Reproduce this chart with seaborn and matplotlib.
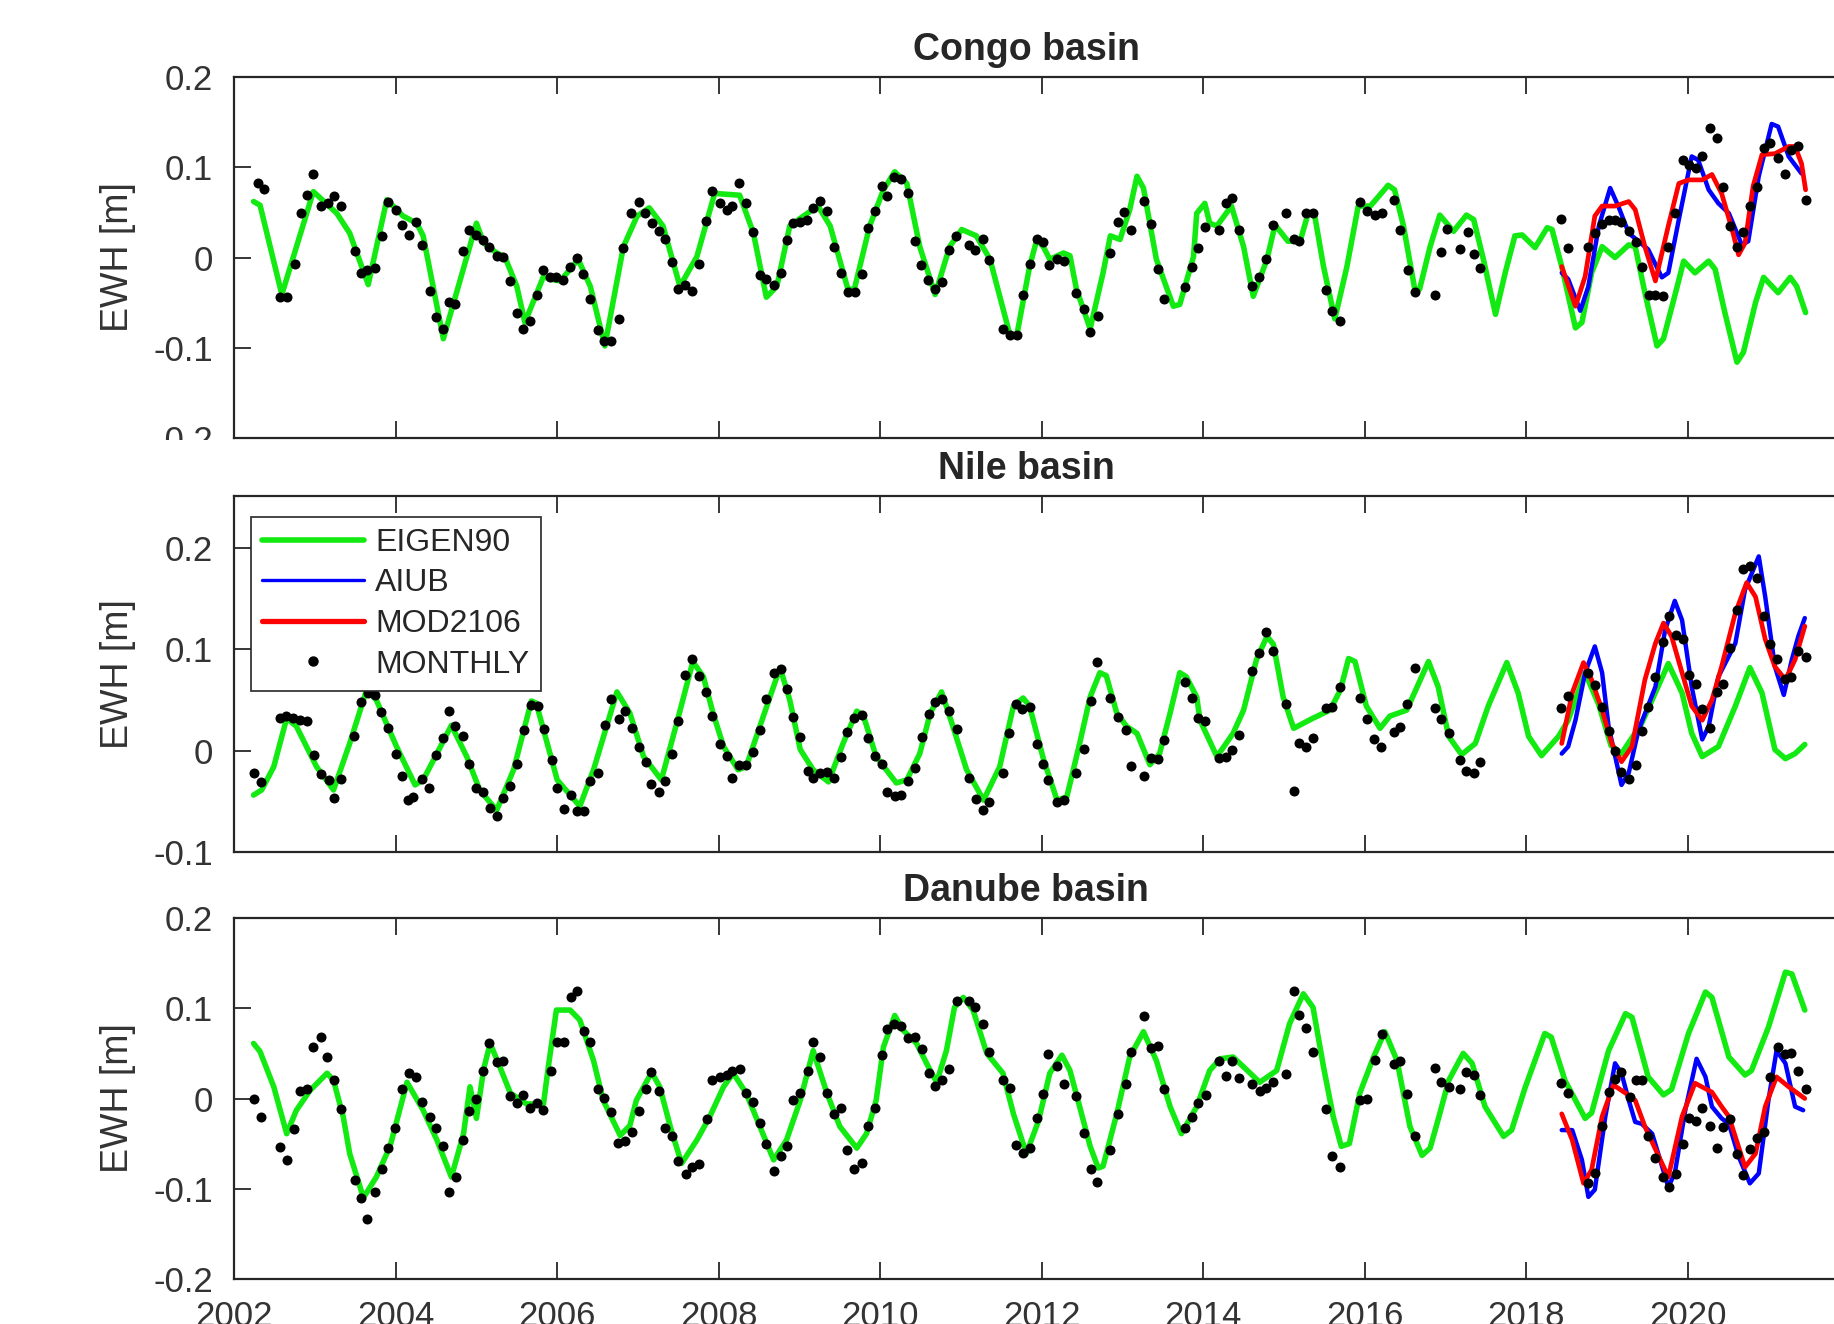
import numpy as np
import pandas as pd
import matplotlib
matplotlib.use("Agg")
import matplotlib.pyplot as plt
import seaborn as sns
from matplotlib.lines import Line2D
from matplotlib.patches import Rectangle

# ---------------- Congo basin ----------------
congo_eigen_t = [2002.24, 2002.32, 2002.59, 2002.98, 2003.27, 2003.43, 2003.66, 2003.89, 2004.09, 2004.26, 2004.34, 2004.59,
                 2005.00, 2005.09, 2005.25, 2005.35, 2005.50, 2005.60, 2005.83, 2005.91, 2006.04, 2006.16, 2006.26, 2006.41,
                 2006.59, 2006.82, 2006.99, 2007.14, 2007.31, 2007.52, 2007.73, 2007.95, 2008.26, 2008.43, 2008.59, 2008.72,
                 2008.88, 2009.05, 2009.23, 2009.38, 2009.60, 2009.68, 2009.87, 2010.04, 2010.18, 2010.33, 2010.49, 2010.68,
                 2010.86, 2011.01, 2011.19, 2011.36, 2011.61, 2011.69, 2011.85, 2011.94, 2012.02, 2012.10, 2012.27, 2012.35,
                 2012.43, 2012.60, 2012.76, 2012.85, 2012.97, 2013.09, 2013.18, 2013.26, 2013.42, 2013.63, 2013.71, 2013.88,
                 2013.92, 2014.02, 2014.08, 2014.17, 2014.35, 2014.50, 2014.62, 2014.79, 2014.89, 2015.05, 2015.20, 2015.30,
                 2015.38, 2015.49, 2015.63, 2015.78, 2015.92, 2016.07, 2016.29, 2016.37, 2016.48, 2016.62, 2016.68, 2016.81,
                 2016.93, 2017.10, 2017.26, 2017.35, 2017.47, 2017.62, 2017.74, 2017.86, 2017.95, 2018.11, 2018.26, 2018.32,
                 2018.44, 2018.61, 2018.69, 2018.81, 2018.94, 2019.10, 2019.27, 2019.35, 2019.47, 2019.62, 2019.70, 2019.85,
                 2019.95, 2020.09, 2020.26, 2020.34, 2020.46, 2020.61, 2020.69, 2020.84, 2020.94, 2021.12, 2021.27, 2021.35,
                 2021.46]
congo_eigen_v = [0.062, 0.058, -0.041, 0.073, 0.049, 0.027, -0.030, 0.064, 0.046, 0.038, 0.024, -0.090,
                 0.038, 0.016, 0.005, 0.001, -0.032, -0.072, -0.021, -0.024, -0.026, -0.013, -0.002, -0.032,
                 -0.098, 0.012, 0.046, 0.055, 0.035, -0.032, 0.001, 0.071, 0.069, 0.027, -0.044, -0.032,
                 0.035, 0.046, 0.057, 0.035, -0.035, -0.035, 0.035, 0.075, 0.095, 0.082, 0.012, -0.041,
                 0.012, 0.031, 0.024, -0.002, -0.087, -0.087, -0.010, 0.020, 0.012, -0.002, 0.005, 0.002,
                 -0.035, -0.079, -0.017, 0.024, 0.020, 0.053, 0.090, 0.077, -0.002, -0.054, -0.052, 0.001,
                 0.049, 0.060, 0.038, 0.035, 0.057, 0.012, -0.043, -0.002, 0.036, 0.018, 0.018, 0.049,
                 0.047, -0.010, -0.068, -0.010, 0.057, 0.057, 0.080, 0.075, 0.035, -0.035, -0.035, 0.012,
                 0.047, 0.029, 0.047, 0.042, -0.002, -0.063, -0.017, 0.024, 0.025, 0.011, 0.033, 0.031,
                 -0.010, -0.078, -0.072, -0.017, 0.012, 0.000, 0.014, 0.012, -0.039, -0.098, -0.090, -0.039,
                 -0.004, -0.017, -0.004, -0.013, -0.061, -0.116, -0.105, -0.050, -0.022, -0.039, -0.022, -0.032,
                 -0.061]
congo_aiub_t = [2018.44, 2018.52, 2018.67, 2018.77, 2018.90, 2019.04, 2019.14, 2019.27, 2019.39, 2019.51, 2019.68, 2019.76,
                2019.89, 2020.05, 2020.13, 2020.26, 2020.38, 2020.51, 2020.67, 2020.75, 2020.88, 2021.04, 2021.12, 2021.25,
                2021.41]
congo_aiub_v = [-0.017, -0.024, -0.059, -0.032, 0.035, 0.077, 0.057, 0.027, 0.018, 0.009, -0.022, -0.017,
                0.042, 0.112, 0.108, 0.075, 0.060, 0.049, 0.014, 0.018, 0.090, 0.148, 0.145, 0.112,
                0.093]
congo_mod_t = [2018.44, 2018.61, 2018.73, 2018.85, 2018.94, 2019.10, 2019.27, 2019.35, 2019.47, 2019.60, 2019.76, 2019.89,
               2020.01, 2020.18, 2020.30, 2020.42, 2020.55, 2020.63, 2020.71, 2020.81, 2020.92, 2021.08, 2021.25, 2021.33,
               2021.41, 2021.46]
congo_mod_v = [-0.010, -0.054, -0.021, 0.046, 0.057, 0.057, 0.062, 0.053, 0.012, -0.026, 0.035, 0.082,
               0.086, 0.086, 0.092, 0.071, 0.031, 0.003, 0.016, 0.079, 0.114, 0.115, 0.123, 0.123,
               0.104, 0.075]
congo_month_t = [2002.29, 2002.37, 2002.57, 2002.66, 2002.75, 2002.83, 2002.90, 2002.98, 2003.07, 2003.16, 2003.24, 2003.32,
                 2003.49, 2003.57, 2003.65, 2003.74, 2003.83, 2003.90, 2004.00, 2004.08, 2004.16, 2004.25, 2004.32, 2004.42,
                 2004.50, 2004.58, 2004.66, 2004.74, 2004.83, 2004.91, 2004.99, 2005.08, 2005.16, 2005.25, 2005.33, 2005.41,
                 2005.50, 2005.58, 2005.66, 2005.75, 2005.83, 2005.91, 2005.99, 2006.07, 2006.16, 2006.25, 2006.32, 2006.41,
                 2006.50, 2006.58, 2006.67, 2006.76, 2006.82, 2006.91, 2007.01, 2007.09, 2007.17, 2007.26, 2007.33, 2007.42,
                 2007.50, 2007.58, 2007.67, 2007.75, 2007.84, 2007.92, 2008.01, 2008.10, 2008.17, 2008.25, 2008.34, 2008.43,
                 2008.51, 2008.59, 2008.68, 2008.77, 2008.85, 2008.92, 2009.01, 2009.09, 2009.17, 2009.25, 2009.34, 2009.43,
                 2009.51, 2009.60, 2009.69, 2009.77, 2009.85, 2009.93, 2010.02, 2010.09, 2010.17, 2010.26, 2010.34, 2010.43,
                 2010.51, 2010.59, 2010.68, 2010.77, 2010.85, 2010.94, 2011.10, 2011.18, 2011.27, 2011.35, 2011.52, 2011.61,
                 2011.69, 2011.77, 2011.85, 2011.94, 2012.02, 2012.09, 2012.19, 2012.27, 2012.43, 2012.52, 2012.60, 2012.70,
                 2012.85, 2012.94, 2013.02, 2013.11, 2013.27, 2013.35, 2013.44, 2013.52, 2013.77, 2013.86, 2013.94, 2014.02,
                 2014.19, 2014.28, 2014.36, 2014.44, 2014.60, 2014.69, 2014.78, 2014.87, 2015.03, 2015.12, 2015.19, 2015.27,
                 2015.36, 2015.52, 2015.60, 2015.69, 2015.94, 2016.03, 2016.13, 2016.21, 2016.36, 2016.44, 2016.54, 2016.62,
                 2016.87, 2016.95, 2017.02, 2017.18, 2017.28, 2017.35, 2017.43, 2018.43, 2018.52, 2018.77, 2018.85, 2018.94,
                 2019.02, 2019.10, 2019.18, 2019.27, 2019.36, 2019.43, 2019.52, 2019.60, 2019.70, 2019.76, 2019.84, 2019.94,
                 2020.02, 2020.10, 2020.18, 2020.28, 2020.36, 2020.44, 2020.53, 2020.61, 2020.69, 2020.77, 2020.86, 2020.94,
                 2021.02, 2021.12, 2021.20, 2021.28, 2021.37, 2021.46]
congo_month_v = [0.083, 0.076, -0.044, -0.044, -0.007, 0.049, 0.069, 0.093, 0.057, 0.060, 0.068, 0.057,
                 0.007, -0.017, -0.014, -0.012, 0.024, 0.062, 0.053, 0.036, 0.025, 0.039, 0.014, -0.037,
                 -0.066, -0.079, -0.049, -0.052, 0.007, 0.031, 0.025, 0.019, 0.012, 0.002, 0.001, -0.026,
                 -0.061, -0.079, -0.070, -0.041, -0.014, -0.022, -0.022, -0.025, -0.010, 0.000, -0.018, -0.046,
                 -0.080, -0.093, -0.092, -0.068, 0.010, 0.049, 0.061, 0.049, 0.038, 0.029, 0.020, -0.005,
                 -0.035, -0.031, -0.037, -0.007, 0.040, 0.074, 0.060, 0.053, 0.057, 0.083, 0.060, 0.028,
                 -0.019, -0.024, -0.030, -0.017, 0.019, 0.038, 0.039, 0.042, 0.055, 0.063, 0.052, 0.012,
                 -0.017, -0.038, -0.038, -0.018, 0.033, 0.051, 0.079, 0.068, 0.089, 0.087, 0.072, 0.018,
                 -0.008, -0.025, -0.035, -0.027, 0.008, 0.024, 0.014, 0.008, 0.021, -0.003, -0.079, -0.086,
                 -0.086, -0.041, -0.007, 0.021, 0.017, -0.008, -0.002, -0.004, -0.039, -0.057, -0.083, -0.065,
                 0.005, 0.039, 0.050, 0.030, 0.063, 0.037, -0.013, -0.046, -0.033, -0.010, 0.011, 0.034,
                 0.030, 0.060, 0.066, 0.030, -0.032, -0.022, -0.002, 0.036, 0.049, 0.020, 0.018, 0.049,
                 0.049, -0.036, -0.059, -0.070, 0.062, 0.052, 0.047, 0.049, 0.064, 0.030, -0.014, -0.038,
                 -0.041, 0.006, 0.032, 0.009, 0.028, 0.004, -0.012, 0.043, 0.010, 0.012, 0.027, 0.037,
                 0.041, 0.042, 0.039, 0.029, 0.017, -0.010, -0.041, -0.041, -0.043, 0.012, 0.049, 0.108,
                 0.103, 0.099, 0.112, 0.143, 0.132, 0.078, 0.035, 0.012, 0.028, 0.057, 0.078, 0.121,
                 0.127, 0.110, 0.093, 0.119, 0.123, 0.064]

# ---------------- Nile basin ----------------
nile_eigen_t = [2002.24, 2002.34, 2002.49, 2002.65, 2002.77, 2003.02, 2003.23, 2003.43, 2003.64, 2003.76, 2004.01, 2004.24,
                2004.34, 2004.51, 2004.69, 2004.88, 2005.04, 2005.25, 2005.46, 2005.68, 2005.74, 2006.00, 2006.28, 2006.45,
                2006.74, 2006.90, 2007.07, 2007.29, 2007.48, 2007.68, 2007.81, 2007.93, 2008.06, 2008.24, 2008.34, 2008.51,
                2008.76, 2008.88, 2009.01, 2009.17, 2009.36, 2009.54, 2009.71, 2009.79, 2009.95, 2010.20, 2010.33, 2010.49,
                2010.62, 2010.76, 2010.90, 2011.07, 2011.28, 2011.48, 2011.65, 2011.77, 2011.85, 2012.02, 2012.19, 2012.31,
                2012.47, 2012.60, 2012.72, 2012.80, 2012.93, 2013.05, 2013.18, 2013.34, 2013.46, 2013.59, 2013.71, 2013.79,
                2013.92, 2013.96, 2014.17, 2014.37, 2014.50, 2014.66, 2014.79, 2014.87, 2014.99, 2015.12, 2015.36, 2015.57,
                2015.70, 2015.80, 2015.88, 2016.02, 2016.19, 2016.31, 2016.52, 2016.79, 2016.91, 2017.04, 2017.20, 2017.37,
                2017.53, 2017.76, 2017.90, 2018.03, 2018.19, 2018.40, 2018.52, 2018.73, 2018.90, 2019.05, 2019.18, 2019.43,
                2019.76, 2019.93, 2020.05, 2020.18, 2020.38, 2020.59, 2020.77, 2020.92, 2021.08, 2021.21, 2021.33, 2021.45]
nile_eigen_v = [-0.044, -0.039, -0.016, 0.032, 0.024, -0.016, -0.039, 0.007, 0.060, 0.050, 0.004, -0.034,
                -0.029, -0.003, 0.025, -0.006, -0.039, -0.059, -0.019, 0.049, 0.047, -0.029, -0.055, -0.019,
                0.058, 0.037, -0.006, -0.029, 0.027, 0.088, 0.073, 0.037, 0.004, -0.019, -0.016, 0.024,
                0.082, 0.050, 0.001, -0.019, -0.031, 0.007, 0.039, 0.035, -0.006, -0.032, -0.029, -0.003,
                0.037, 0.058, 0.024, -0.019, -0.049, -0.016, 0.044, 0.052, 0.044, -0.008, -0.049, -0.046,
                0.007, 0.053, 0.077, 0.074, 0.037, 0.024, 0.017, -0.014, -0.003, 0.037, 0.077, 0.073,
                0.053, 0.030, -0.006, 0.017, 0.040, 0.090, 0.113, 0.105, 0.053, 0.022, 0.032, 0.040,
                0.060, 0.091, 0.088, 0.044, 0.022, 0.034, 0.040, 0.088, 0.063, 0.014, -0.004, 0.007,
                0.044, 0.087, 0.057, 0.014, -0.005, 0.014, 0.030, 0.077, 0.045, 0.005, -0.003, 0.027,
                0.086, 0.057, 0.017, -0.006, 0.004, 0.044, 0.082, 0.057, 0.001, -0.008, -0.003, 0.006]
nile_aiub_t = [2018.44, 2018.52, 2018.61, 2018.73, 2018.85, 2018.94, 2019.02, 2019.18, 2019.27, 2019.39, 2019.60, 2019.72,
               2019.84, 2019.93, 2020.05, 2020.18, 2020.26, 2020.38, 2020.59, 2020.71, 2020.88, 2020.96, 2021.08, 2021.19,
               2021.29, 2021.37, 2021.45]
nile_aiub_v = [-0.003, 0.004, 0.030, 0.077, 0.103, 0.077, 0.024, -0.034, -0.022, 0.020, 0.063, 0.119,
               0.148, 0.129, 0.063, 0.011, 0.024, 0.073, 0.106, 0.159, 0.192, 0.152, 0.083, 0.055,
               0.090, 0.113, 0.131]
nile_mod_t = [2018.44, 2018.57, 2018.71, 2018.81, 2018.94, 2019.06, 2019.18, 2019.31, 2019.47, 2019.60, 2019.70, 2019.80,
              2019.93, 2020.05, 2020.18, 2020.30, 2020.42, 2020.59, 2020.73, 2020.84, 2020.96, 2021.08, 2021.21, 2021.33,
              2021.45]
nile_mod_v = [0.007, 0.057, 0.087, 0.070, 0.040, 0.007, -0.011, 0.004, 0.070, 0.106, 0.126, 0.113,
              0.077, 0.044, 0.030, 0.050, 0.083, 0.136, 0.166, 0.152, 0.110, 0.083, 0.070, 0.090,
              0.123]
nile_month_t = [2002.24, 2002.33, 2002.57, 2002.64, 2002.73, 2002.82, 2002.90, 2002.99, 2003.08, 2003.17, 2003.24, 2003.32,
                2003.48, 2003.57, 2003.66, 2003.74, 2003.82, 2003.90, 2004.00, 2004.08, 2004.15, 2004.22, 2004.33, 2004.41,
                2004.50, 2004.58, 2004.66, 2004.74, 2004.83, 2004.91, 2004.99, 2005.08, 2005.17, 2005.25, 2005.33, 2005.42,
                2005.50, 2005.59, 2005.67, 2005.76, 2005.84, 2005.93, 2006.00, 2006.09, 2006.17, 2006.25, 2006.33, 2006.41,
                2006.51, 2006.59, 2006.67, 2006.76, 2006.84, 2006.93, 2007.01, 2007.10, 2007.16, 2007.26, 2007.33, 2007.42,
                2007.50, 2007.58, 2007.67, 2007.75, 2007.84, 2007.92, 2008.01, 2008.10, 2008.17, 2008.25, 2008.34, 2008.43,
                2008.51, 2008.58, 2008.68, 2008.77, 2008.85, 2008.92, 2009.01, 2009.10, 2009.17, 2009.25, 2009.34, 2009.43,
                2009.51, 2009.59, 2009.67, 2009.77, 2009.85, 2009.93, 2010.02, 2010.09, 2010.18, 2010.26, 2010.34, 2010.43,
                2010.52, 2010.60, 2010.68, 2010.77, 2010.85, 2010.95, 2011.10, 2011.19, 2011.27, 2011.35, 2011.52, 2011.60,
                2011.68, 2011.76, 2011.85, 2011.94, 2012.02, 2012.08, 2012.19, 2012.28, 2012.43, 2012.52, 2012.61, 2012.69,
                2012.85, 2012.95, 2013.04, 2013.11, 2013.27, 2013.35, 2013.44, 2013.52, 2013.77, 2013.86, 2013.94, 2014.02,
                2014.19, 2014.28, 2014.36, 2014.44, 2014.60, 2014.69, 2014.78, 2014.87, 2015.03, 2015.12, 2015.19, 2015.27,
                2015.36, 2015.52, 2015.60, 2015.69, 2015.94, 2016.03, 2016.12, 2016.20, 2016.36, 2016.44, 2016.53, 2016.62,
                2016.87, 2016.95, 2017.04, 2017.18, 2017.26, 2017.35, 2017.43, 2018.43, 2018.52, 2018.77, 2018.85, 2018.94,
                2019.02, 2019.10, 2019.18, 2019.27, 2019.36, 2019.43, 2019.51, 2019.60, 2019.70, 2019.77, 2019.85, 2019.94,
                2020.02, 2020.10, 2020.18, 2020.28, 2020.36, 2020.44, 2020.53, 2020.61, 2020.69, 2020.77, 2020.86, 2020.94,
                2021.02, 2021.10, 2021.20, 2021.28, 2021.36, 2021.46]
nile_month_v = [-0.022, -0.031, 0.032, 0.034, 0.032, 0.030, 0.029, -0.004, -0.023, -0.029, -0.047, -0.028,
                0.014, 0.048, 0.057, 0.055, 0.038, 0.022, -0.003, -0.025, -0.049, -0.046, -0.028, -0.037,
                -0.004, 0.012, 0.039, 0.024, 0.014, -0.013, -0.037, -0.041, -0.057, -0.065, -0.047, -0.035,
                -0.013, 0.020, 0.045, 0.044, 0.021, -0.009, -0.037, -0.058, -0.044, -0.060, -0.060, -0.030,
                -0.022, 0.025, 0.051, 0.031, 0.039, 0.022, 0.004, -0.011, -0.033, -0.041, -0.030, -0.003,
                0.029, 0.075, 0.091, 0.074, 0.058, 0.034, 0.006, -0.005, -0.027, -0.014, -0.014, -0.001,
                0.020, 0.051, 0.077, 0.081, 0.061, 0.033, 0.013, -0.020, -0.027, -0.022, -0.021, -0.027,
                -0.006, 0.018, 0.032, 0.035, 0.012, -0.005, -0.013, -0.041, -0.045, -0.044, -0.030, -0.017,
                0.013, 0.036, 0.048, 0.051, 0.039, 0.021, -0.027, -0.048, -0.059, -0.051, -0.022, 0.017,
                0.046, 0.041, 0.043, 0.006, -0.013, -0.029, -0.051, -0.049, -0.022, 0.002, 0.049, 0.088,
                0.052, 0.033, 0.020, -0.015, -0.025, -0.007, -0.008, 0.010, 0.068, 0.052, 0.032, 0.029,
                -0.007, -0.006, 0.001, 0.015, 0.079, 0.096, 0.117, 0.098, 0.046, -0.040, 0.007, 0.004,
                0.012, 0.042, 0.043, 0.063, 0.052, 0.031, 0.011, 0.004, 0.018, 0.023, 0.046, 0.082,
                0.042, 0.031, 0.017, -0.009, -0.020, -0.022, -0.011, 0.042, 0.054, 0.077, 0.065, 0.043,
                0.019, 0.000, -0.021, -0.028, -0.014, 0.019, 0.043, 0.073, 0.107, 0.133, 0.114, 0.110,
                0.075, 0.066, 0.041, 0.022, 0.058, 0.066, 0.101, 0.139, 0.180, 0.182, 0.171, 0.133,
                0.105, 0.091, 0.071, 0.073, 0.098, 0.093]

# ---------------- Danube basin ----------------
danube_eigen_t = [2002.24, 2002.32, 2002.49, 2002.65, 2002.77, 2002.94, 2003.15, 2003.23, 2003.35, 2003.43, 2003.60, 2003.76,
                  2003.93, 2004.14, 2004.34, 2004.51, 2004.69, 2004.84, 2004.92, 2005.00, 2005.09, 2005.17, 2005.29, 2005.42,
                  2005.62, 2005.83, 2005.89, 2005.99, 2006.16, 2006.28, 2006.45, 2006.57, 2006.78, 2006.90, 2006.98, 2007.17,
                  2007.27, 2007.40, 2007.54, 2007.73, 2007.89, 2008.06, 2008.18, 2008.34, 2008.51, 2008.68, 2008.84, 2009.01,
                  2009.17, 2009.34, 2009.50, 2009.71, 2009.83, 2009.95, 2010.04, 2010.18, 2010.28, 2010.45, 2010.62, 2010.70,
                  2010.82, 2010.92, 2011.03, 2011.15, 2011.32, 2011.52, 2011.65, 2011.81, 2011.96, 2012.10, 2012.25, 2012.35,
                  2012.47, 2012.60, 2012.70, 2012.76, 2012.93, 2013.09, 2013.26, 2013.42, 2013.59, 2013.73, 2013.92, 2014.08,
                  2014.21, 2014.37, 2014.50, 2014.70, 2014.91, 2015.07, 2015.24, 2015.36, 2015.49, 2015.61, 2015.71, 2015.81,
                  2015.94, 2016.11, 2016.25, 2016.40, 2016.56, 2016.71, 2016.81, 2016.92, 2017.04, 2017.22, 2017.33, 2017.49,
                  2017.72, 2017.82, 2017.99, 2018.23, 2018.31, 2018.48, 2018.73, 2018.81, 2019.02, 2019.23, 2019.31, 2019.51,
                  2019.70, 2019.80, 2020.01, 2020.22, 2020.30, 2020.51, 2020.71, 2020.79, 2021.00, 2021.21, 2021.29, 2021.45]
danube_eigen_v = [0.061, 0.052, 0.013, -0.039, -0.013, 0.009, 0.028, 0.020, -0.020, -0.061, -0.110, -0.087,
                  -0.053, 0.018, -0.013, -0.046, -0.087, -0.039, 0.013, -0.022, 0.033, 0.061, 0.035, 0.006,
                  -0.006, -0.006, 0.035, 0.098, 0.098, 0.087, 0.042, -0.002, -0.041, -0.030, -0.002, 0.029,
                  0.013, -0.031, -0.072, -0.046, -0.020, 0.013, 0.028, 0.006, -0.031, -0.068, -0.046, -0.002,
                  0.053, 0.006, -0.031, -0.055, -0.039, -0.002, 0.057, 0.092, 0.076, 0.061, 0.031, 0.018,
                  0.053, 0.101, 0.112, 0.098, 0.050, 0.028, -0.017, -0.061, -0.025, 0.028, 0.048, 0.031,
                  -0.009, -0.053, -0.077, -0.075, -0.017, 0.046, 0.074, 0.042, -0.009, -0.039, -0.009, 0.031,
                  0.044, 0.046, 0.035, 0.018, 0.031, 0.083, 0.116, 0.101, 0.035, -0.020, -0.053, -0.050,
                  0.006, 0.046, 0.074, 0.042, -0.031, -0.063, -0.055, -0.020, 0.020, 0.050, 0.039, -0.009,
                  -0.042, -0.035, 0.013, 0.072, 0.068, 0.020, -0.022, -0.016, 0.053, 0.094, 0.090, 0.024,
                  0.004, 0.010, 0.072, 0.118, 0.112, 0.046, 0.026, 0.031, 0.079, 0.140, 0.138, 0.098]
danube_aiub_t = [2018.44, 2018.57, 2018.69, 2018.77, 2018.85, 2018.98, 2019.10, 2019.18, 2019.27, 2019.35, 2019.43, 2019.56,
                 2019.76, 2019.84, 2019.97, 2020.11, 2020.22, 2020.30, 2020.42, 2020.51, 2020.63, 2020.77, 2020.88, 2021.00,
                 2021.10, 2021.21, 2021.33, 2021.43]
danube_aiub_v = [-0.035, -0.035, -0.068, -0.109, -0.101, -0.020, 0.039, 0.028, -0.002, -0.026, -0.028, -0.039,
                 -0.098, -0.083, -0.013, 0.044, 0.024, -0.009, -0.022, -0.028, -0.064, -0.094, -0.083, -0.002,
                 0.053, 0.039, -0.009, -0.013]
danube_mod_t = [2018.44, 2018.57, 2018.71, 2018.81, 2018.94, 2019.08, 2019.23, 2019.35, 2019.47, 2019.76, 2019.93, 2020.09,
                2020.30, 2020.42, 2020.51, 2020.71, 2020.84, 2020.96, 2021.10, 2021.25, 2021.45]
danube_mod_v = [-0.017, -0.046, -0.094, -0.079, -0.020, 0.015, 0.006, -0.002, -0.031, -0.087, -0.020, 0.017,
                0.007, -0.009, -0.020, -0.076, -0.061, -0.009, 0.024, 0.013, 0.000]
danube_month_t = [2002.24, 2002.33, 2002.57, 2002.66, 2002.74, 2002.82, 2002.90, 2002.98, 2003.07, 2003.15, 2003.24, 2003.32,
                  2003.49, 2003.57, 2003.65, 2003.74, 2003.83, 2003.91, 2003.99, 2004.08, 2004.16, 2004.25, 2004.32, 2004.42,
                  2004.50, 2004.58, 2004.66, 2004.75, 2004.83, 2004.91, 2004.99, 2005.08, 2005.16, 2005.25, 2005.33, 2005.41,
                  2005.50, 2005.58, 2005.66, 2005.75, 2005.83, 2005.92, 2006.00, 2006.08, 2006.17, 2006.25, 2006.33, 2006.41,
                  2006.50, 2006.58, 2006.67, 2006.75, 2006.84, 2006.93, 2007.01, 2007.10, 2007.16, 2007.26, 2007.33, 2007.42,
                  2007.50, 2007.59, 2007.67, 2007.75, 2007.85, 2007.92, 2008.01, 2008.10, 2008.17, 2008.26, 2008.34, 2008.43,
                  2008.51, 2008.59, 2008.68, 2008.77, 2008.85, 2008.92, 2009.01, 2009.10, 2009.17, 2009.25, 2009.34, 2009.43,
                  2009.51, 2009.59, 2009.67, 2009.77, 2009.85, 2009.93, 2010.02, 2010.09, 2010.17, 2010.26, 2010.35, 2010.43,
                  2010.52, 2010.60, 2010.68, 2010.77, 2010.85, 2010.95, 2011.10, 2011.18, 2011.27, 2011.35, 2011.52, 2011.61,
                  2011.68, 2011.77, 2011.85, 2011.94, 2012.02, 2012.08, 2012.19, 2012.28, 2012.43, 2012.52, 2012.61, 2012.69,
                  2012.85, 2012.95, 2013.04, 2013.11, 2013.27, 2013.35, 2013.44, 2013.52, 2013.77, 2013.86, 2013.94, 2014.03,
                  2014.19, 2014.28, 2014.36, 2014.44, 2014.60, 2014.70, 2014.78, 2014.87, 2015.03, 2015.12, 2015.19, 2015.27,
                  2015.36, 2015.52, 2015.60, 2015.69, 2015.94, 2016.03, 2016.13, 2016.21, 2016.36, 2016.44, 2016.53, 2016.62,
                  2016.87, 2016.95, 2017.04, 2017.18, 2017.26, 2017.35, 2017.43, 2018.43, 2018.52, 2018.77, 2018.85, 2018.94,
                  2019.02, 2019.10, 2019.18, 2019.28, 2019.36, 2019.44, 2019.51, 2019.60, 2019.69, 2019.77, 2019.85, 2019.94,
                  2020.02, 2020.10, 2020.18, 2020.28, 2020.36, 2020.44, 2020.53, 2020.61, 2020.69, 2020.77, 2020.86, 2020.94,
                  2021.02, 2021.12, 2021.20, 2021.28, 2021.36, 2021.46]
danube_month_v = [0.000, -0.020, -0.054, -0.068, -0.034, 0.008, 0.011, 0.057, 0.068, 0.046, 0.021, -0.012,
                  -0.090, -0.110, -0.134, -0.104, -0.078, -0.055, -0.033, 0.011, 0.028, 0.024, -0.004, -0.020,
                  -0.033, -0.053, -0.104, -0.087, -0.046, -0.014, 0.000, 0.031, 0.061, 0.040, 0.041, 0.003,
                  -0.005, 0.004, -0.011, -0.005, -0.013, 0.031, 0.063, 0.063, 0.112, 0.119, 0.075, 0.063,
                  0.011, 0.001, -0.015, -0.049, -0.047, -0.037, -0.014, 0.010, 0.029, 0.008, -0.033, -0.042,
                  -0.069, -0.084, -0.076, -0.073, -0.023, 0.021, 0.024, 0.026, 0.031, 0.033, 0.006, -0.004,
                  -0.027, -0.050, -0.080, -0.064, -0.053, -0.002, 0.006, 0.031, 0.063, 0.046, 0.006, -0.017,
                  -0.010, -0.057, -0.078, -0.072, -0.031, -0.011, 0.048, 0.077, 0.082, 0.080, 0.067, 0.068,
                  0.055, 0.028, 0.014, 0.020, 0.033, 0.108, 0.108, 0.101, 0.082, 0.052, 0.020, 0.012,
                  -0.052, -0.060, -0.055, -0.022, 0.005, 0.049, 0.036, 0.016, 0.003, -0.038, -0.078, -0.093,
                  -0.057, -0.017, 0.016, 0.051, 0.091, 0.056, 0.058, 0.011, -0.033, -0.020, -0.005, 0.004,
                  0.041, 0.025, 0.041, 0.023, 0.016, 0.008, 0.012, 0.018, 0.027, 0.119, 0.092, 0.078,
                  0.052, -0.012, -0.064, -0.076, -0.002, 0.000, 0.043, 0.072, 0.038, 0.042, 0.005, -0.041,
                  0.034, 0.018, 0.013, 0.010, 0.029, 0.026, 0.004, 0.017, 0.006, -0.094, -0.083, -0.031,
                  0.007, 0.022, 0.029, 0.002, 0.021, 0.021, -0.041, -0.066, -0.087, -0.098, -0.084, -0.050,
                  -0.022, -0.025, -0.010, -0.031, -0.055, -0.032, -0.023, -0.061, -0.085, -0.056, -0.044, -0.037,
                  0.024, 0.057, 0.049, 0.050, 0.031, 0.011]

titles = ["Congo basin", "Nile basin", "Danube basin"]
series_names = ["EIGEN90", "AIUB", "MOD2106", "MONTHLY"]
year_ticks = [2002, 2004, 2006, 2008, 2010, 2012, 2014, 2016, 2018, 2020]
ytick_sets = [[-0.2, -0.1, 0, 0.1, 0.2], [-0.1, 0, 0.1, 0.2], [-0.2, -0.1, 0, 0.1, 0.2]]
ytick_label_sets = [["-0.2", "-0.1", "0", "0.1", "0.2"], ["-0.1", "0", "0.1", "0.2"],
                    ["-0.2", "-0.1", "0", "0.1", "0.2"]]
ylims = [(-0.2, 0.2), (-0.1, 0.2517), (-0.2, 0.2)]

panel_data = [
    (congo_eigen_t, congo_eigen_v, congo_aiub_t, congo_aiub_v, congo_mod_t, congo_mod_v, congo_month_t, congo_month_v),
    (nile_eigen_t, nile_eigen_v, nile_aiub_t, nile_aiub_v, nile_mod_t, nile_mod_v, nile_month_t, nile_month_v),
    (danube_eigen_t, danube_eigen_v, danube_aiub_t, danube_aiub_v, danube_mod_t, danube_mod_v, danube_month_t, danube_month_v),
]

# ---------------- style ----------------
sns.set_style("ticks")
plt.rcParams['font.family'] = ['Liberation Sans', 'DejaVu Sans']

GREEN, BLUE, RED = '#12ea12', '#0000ff', '#ff0000'
AXC = '#262626'
W, H = 1834, 1324
fig = plt.figure(figsize=(W / 100, H / 100), dpi=100)
fig.patch.set_facecolor('white')

# axes boxes in pixels (left, top, bottom); right edge runs to the figure edge
boxes = [(234.2, 77, 438), (234.2, 496, 851.7), (234.2, 918, 1279)]
x_right = 2002 + (W - 234.2) / 80.75

axes = []
for i, (l, t, b) in enumerate(boxes):
    ax = fig.add_axes([l / W, 1 - b / H, (W - l) / W, (b - t) / H])
    axes.append(ax)
    et, ev, at, av, mt, mv, qt, qv = panel_data[i]
    sns.lineplot(x=et, y=ev, color=GREEN, linewidth=4.0, ax=ax, sort=False, estimator=None, legend=False, zorder=2)
    sns.lineplot(x=at, y=av, color=BLUE, linewidth=3.2, ax=ax, sort=False, estimator=None, legend=False, zorder=3)
    sns.lineplot(x=mt, y=mv, color=RED, linewidth=3.4, ax=ax, sort=False, estimator=None, legend=False, zorder=4)
    sns.scatterplot(x=qt, y=qv, color='black', s=52, linewidth=0, ax=ax, legend=False, zorder=5)

    ax.set_xlim(2002, x_right)
    ax.set_ylim(*ylims[i])
    ax.set_xticks(year_ticks)
    ax.set_yticks(ytick_sets[i])
    ax.set_yticklabels(ytick_label_sets[i])
    if i < 2:
        ax.set_xticklabels([])
    else:
        ax.set_xticklabels([str(y) for y in year_ticks])
    ax.tick_params(axis='both', direction='in', length=12, width=1.3, colors=AXC,
                   labelsize=25, pad=15, top=True, right=False, labelcolor='#333333')
    for side in ['top', 'left', 'bottom']:
        ax.spines[side].set_color(AXC)
        ax.spines[side].set_linewidth(1.6)
    ax.spines['right'].set_visible(False)
    ax.set_xlabel('')
    ax.set_ylabel('EWH [m]', fontsize=27, color='#333333')
    ax.yaxis.set_label_coords(-0.0614, 0.5)
    ax.set_title(titles[i], fontsize=27, fontweight='bold', pad=12, x=0.495)
    ax.set_facecolor('white')

# white band that hides the lower half of the top panel's bottom tick label (as in the source)
cover = Rectangle((0, 1 - 492 / H), 1, (492 - 440) / H, transform=fig.transFigure,
                  facecolor='white', edgecolor='none', zorder=10, clip_on=False)
axes[0].add_artist(cover)

handles = [Line2D([], [], color=GREEN, lw=4.0),
           Line2D([], [], color=BLUE, lw=2.4),
           Line2D([], [], color=RED, lw=3.8),
           Line2D([], [], ls='none', marker='o', ms=6.5, color='black')]
leg = axes[1].legend(handles, series_names, loc='upper left', bbox_to_anchor=(0.0103, 0.9418),
                     borderaxespad=0, fontsize=23, handlelength=3.2, handletextpad=0.35,
                     labelspacing=0.33, borderpad=0.35, frameon=True, fancybox=False,
                     edgecolor=AXC, framealpha=1)
leg.get_frame().set_linewidth(1.2)
leg.set_zorder(20)

fig.savefig('out.png', dpi=100, facecolor='white')
